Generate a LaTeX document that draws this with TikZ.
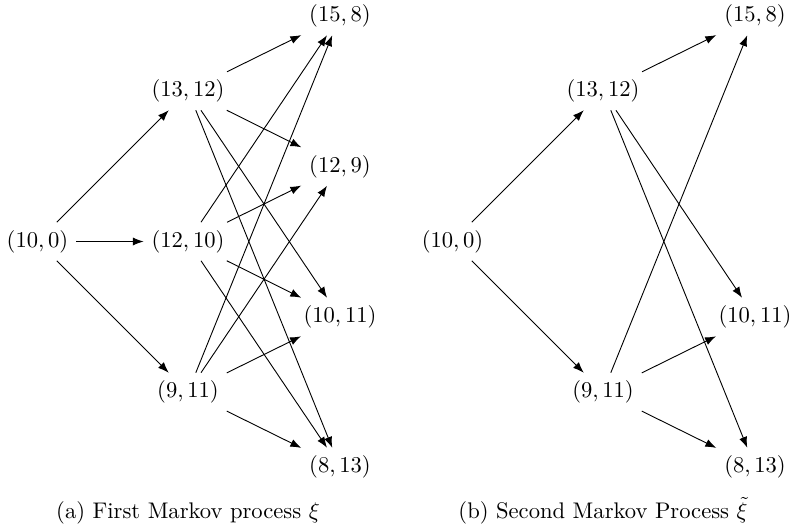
\documentclass[tikz,border=0pt]{standalone}
\usetikzlibrary{arrows.meta}
\begin{document}
\begin{tikzpicture}[x=0.4425pt,y=-0.4425pt,
  state/.style={inner sep=0.3333em},
  arr/.style={-{Latex}},
  captext/.style={anchor=base,inner sep=0pt}]
\useasboundingbox (0,0) rectangle (790,527);

% ---- (a) first process: full transitions ----
\node[state] (a0) at (37.5,241.5) {$(10,0)$};
\node[state] (a1) at (188,91)    {$(13,12)$};
\node[state] (a2) at (188,241.5) {$(12,10)$};
\node[state] (a3) at (188,392)   {$(9,11)$};
\node[state] (b1) at (340,16)    {$(15,8)$};
\node[state] (b2) at (340,166.5) {$(12,9)$};
\node[state] (b3) at (340,317)   {$(10,11)$};
\node[state] (b4) at (340,467)   {$(8,13)$};

\draw[arr] (a0) -- (a1);
\draw[arr] (a0) -- (a2);
\draw[arr] (a0) -- (a3);
\foreach \s in {a1,a2,a3}
  \foreach \t in {b1,b2,b3,b4}
    \draw[arr] (\s) -- (\t);

\node[captext] (capa) at (188,518.5) {(a) First Markov process $\xi$};

% ---- (b) second process: reduced transitions ----
\node[state] (c0) at (452.5,241.5) {$(10,0)$};
\node[state] (c1) at (603,91)      {$(13,12)$};
\node[state] (c3) at (603,392)     {$(9,11)$};
\node[state] (d1) at (755,16)      {$(15,8)$};
\node[state] (d3) at (755,317)     {$(10,11)$};
\node[state] (d4) at (755,467)     {$(8,13)$};

\draw[arr] (c0) -- (c1);
\draw[arr] (c0) -- (c3);
\foreach \s in {c1,c3}
  \foreach \t in {d1,d3,d4}
    \draw[arr] (\s) -- (\t);

\node[captext] (capb) at (603,518.5) {(b) Second Markov Process $\tilde{\xi}$};
\end{tikzpicture}
\end{document}
